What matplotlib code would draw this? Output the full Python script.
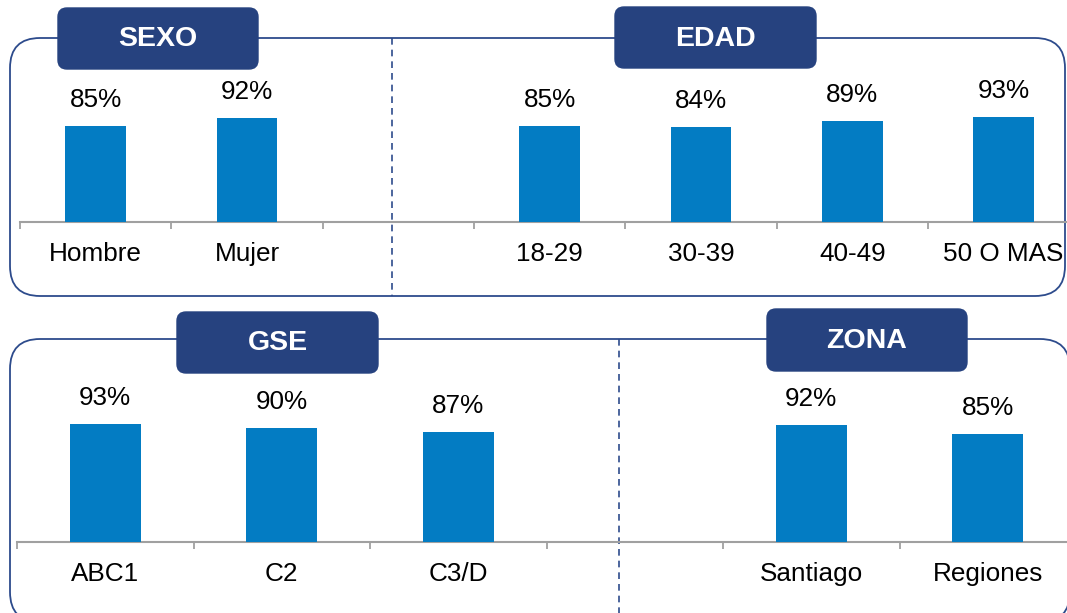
import matplotlib
matplotlib.use("Agg")
import matplotlib.pyplot as plt
from matplotlib.patches import FancyBboxPatch

plt.rcParams['font.family'] = ['Liberation Sans', 'DejaVu Sans']

# data
sexo_labels = ["Hombre", "Mujer"]
sexo_vals = [85, 92]
edad_labels = ["18-29", "30-39", "40-49", "50 O MAS"]
edad_vals = [85, 84, 89, 93]
gse_labels = ["ABC1", "C2", "C3/D"]
gse_vals = [93, 90, 87]
zona_labels = ["Santiago", "Regiones"]
zona_vals = [92, 85]

W, H = 1067, 613
BAR = "#037CC3"
NAVY = "#26427F"
LINE = "#2D4B8C"
GRAY = "#A0A0A0"
PX = 72 / 100.0  # points per pixel

fig = plt.figure(figsize=(W / 100, H / 100), dpi=100)

# background layer in pixel coords (y down)
bg = fig.add_axes([0, 0, 1, 1])
bg.set_xlim(0, W)
bg.set_ylim(H, 0)
bg.axis("off")


def panel(x0, y0, x1, y1):
    bg.add_patch(FancyBboxPatch((x0, y0), x1 - x0, y1 - y0,
                                boxstyle="round,pad=0,rounding_size=30",
                                fc="white", ec=LINE, lw=1.3))


def header(txt, x0, y0, x1, y1):
    bg.add_patch(FancyBboxPatch((x0, y0), x1 - x0, y1 - y0,
                                boxstyle="round,pad=0,rounding_size=9",
                                fc=NAVY, ec=NAVY, lw=1, zorder=5))
    bg.text((x0 + x1) / 2, (y0 + y1) / 2 + 1, txt, color="white",
            fontsize=20.5, fontweight="bold", ha="center", va="center", zorder=6)


panel(10, 38, 1065, 296)
panel(10, 339, 1070, 622)
bg.plot([392, 392], [38, 296], ls=(0, (4, 3)), color=LINE, lw=1.2)
bg.plot([619, 619], [339, 613], ls=(0, (4, 3)), color=LINE, lw=1.2)
header("SEXO", 58, 8, 258, 69)
header("EDAD", 615, 7, 816, 68)
header("GSE", 177, 312, 378, 373)
header("ZONA", 767, 309, 967, 371)


def bar_axes(left, base_y, top_y, slot, px_per_unit, nslots):
    b = (H - base_y) / H
    h = (base_y - top_y) / H
    ax = fig.add_axes([left / W, b, (W - left) / W, h])
    ax.set_facecolor("none")
    for s in ["top", "right", "left"]:
        ax.spines[s].set_visible(False)
    ax.spines["bottom"].set_color(GRAY)
    ax.spines["bottom"].set_linewidth(1.5)
    ax.set_yticks([])
    ax.set_xticks([i - 0.5 for i in range(nslots + 1)])
    ax.set_xticklabels([])
    ax.tick_params(axis="x", direction="out", length=7 * PX, width=1.3, color=GRAY)
    # limits after ticks so the ticks do not widen the view
    ax.set_xlim(-0.5, -0.5 + (W - left) / slot)
    ax.set_ylim(0, (base_y - top_y) / px_per_unit)
    return ax


def draw(ax, pos, vals, labels):
    ax.bar(pos, vals, width=0.4, color=BAR, zorder=3)
    for p, v, lab in zip(pos, vals, labels):
        ax.annotate(f"{v}%", (p, v), xytext=(0, 26 * PX), textcoords="offset points",
                    ha="center", va="center", fontsize=18.8, color="black")
        ax.annotate(lab, (p, 0), xytext=(0, -32 * PX), textcoords="offset points",
                    ha="center", va="center", fontsize=18.8, color="black",
                    annotation_clip=False)


ax1 = bar_axes(20, 222, 50, 151.33, 1.13, 7)
draw(ax1, [0, 1], sexo_vals, sexo_labels)
draw(ax1, [3, 4, 5, 6], edad_vals, edad_labels)

ax2 = bar_axes(17, 542, 380, 176.5, 1.27, 6)
draw(ax2, [0, 1, 2], gse_vals, gse_labels)
draw(ax2, [4, 5], zona_vals, zona_labels)

fig.savefig("out.png", dpi=100)
